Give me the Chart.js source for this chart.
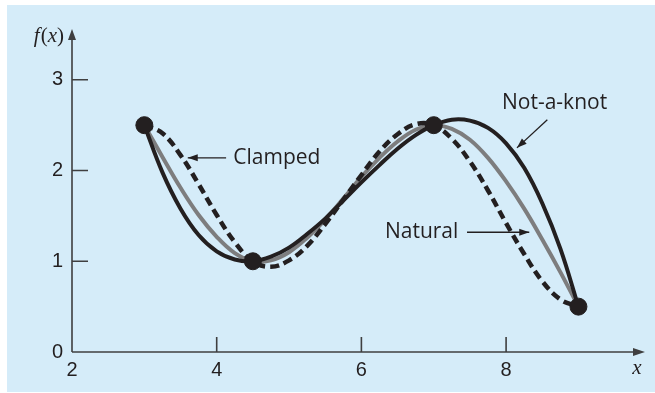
<!DOCTYPE html>
<html>
<head>
<meta charset="utf-8">
<script src="https://cdn.jsdelivr.net/npm/chart.js@4.4.1/dist/chart.umd.min.js"></script>
<style>
  html, body { margin: 0; padding: 0; background: #ffffff; }
  #wrap { width: 655px; height: 393px; }
</style>
</head>
<body>
<div id="wrap"><canvas id="splineChart" width="655" height="393"></canvas></div>
<script>
// sample abscissas
const xs = [3, 3.25, 3.5, 3.75, 4, 4.25, 4.5, 4.75, 5, 5.25, 5.5, 5.75, 6,
  6.25, 6.5, 6.75, 7, 7.25, 7.5, 7.75, 8, 8.25, 8.5, 8.75, 9];

const notAKnot = [2.5, 1.98, 1.58, 1.29, 1.11, 1.02, 1.0, 1.05, 1.15, 1.3, 1.47, 1.67, 1.87,
  2.06, 2.24, 2.39, 2.5, 2.56, 2.55, 2.47, 2.3, 2.03, 1.64, 1.14, 0.5];
const natural = [2.5, 2.15, 1.81, 1.51, 1.27, 1.09, 1.0, 1.01, 1.1, 1.26, 1.46, 1.69, 1.93,
  2.14, 2.32, 2.45, 2.5, 2.46, 2.34, 2.14, 1.88, 1.58, 1.24, 0.88, 0.5];
const clamped = [2.5, 2.41, 2.17, 1.85, 1.51, 1.21, 1.0, 0.94, 1.01, 1.17, 1.41, 1.68, 1.95,
  2.21, 2.4, 2.51, 2.5, 2.35, 2.1, 1.78, 1.42, 1.08, 0.78, 0.58, 0.5];

// data points the splines go through
const knotX = [3, 4.5, 7, 9];
const knotY = [2.5, 1, 2.5, 0.5];

const xTicks = [2, 4, 6, 8];
const yTicks = [0, 1, 2, 3];

const INK = "#231f20";
const AXIS = "#3f3f40";
const GREY = "#7d7d7e";

const notes = [
  { text: "Clamped", x: 4.23, y: 2.14, align: "left", from: [4.13, 2.14], to: [3.6, 2.14] },
  { text: "Natural", x: 7.34, y: 1.32, align: "right", from: [7.46, 1.32], to: [8.32, 1.32] },
  { text: "Not-a-knot", x: 8.67, y: 2.74, align: "center", from: [8.57, 2.56], to: [8.15, 2.25] },
];

const toPoints = (ys) => xs.map((x, i) => ({ x, y: ys[i] }));

function arrowHead(ctx, x1, y1, x2, y2, len, half) {
  const a = Math.atan2(y2 - y1, x2 - x1);
  const c = Math.cos(a), s = Math.sin(a);
  ctx.beginPath();
  ctx.moveTo(x2, y2);
  ctx.lineTo(x2 - len * c + half * s, y2 - len * s - half * c);
  ctx.lineTo(x2 - len * c - half * s, y2 - len * s + half * c);
  ctx.closePath();
  ctx.fill();
}

const backdrop = {
  id: "backdrop",
  beforeDraw(chart) {
    const ctx = chart.ctx;
    ctx.save();
    ctx.fillStyle = "#ffffff";
    ctx.fillRect(0, 0, chart.width, chart.height);
    ctx.fillStyle = "#d5ecf9";
    ctx.fillRect(7, 5, chart.width - 7, chart.height - 6);
    ctx.restore();
  },
};

const axes = {
  id: "axes",
  beforeDatasetsDraw(chart) {
    const { ctx, chartArea: a, scales } = chart;
    const x0 = a.left, y0 = a.bottom;
    ctx.save();
    ctx.strokeStyle = AXIS;
    ctx.fillStyle = AXIS;
    ctx.lineWidth = 1.6;
    ctx.beginPath();
    ctx.moveTo(x0, y0);
    ctx.lineTo(x0, a.top + 6);
    ctx.moveTo(x0, y0);
    ctx.lineTo(a.right - 6, y0);
    // ticks point inwards
    yTicks.slice(1).forEach((v) => {
      const py = scales.y.getPixelForValue(v);
      ctx.moveTo(x0, py);
      ctx.lineTo(x0 + 16, py);
    });
    xTicks.slice(1).forEach((v) => {
      const px = scales.x.getPixelForValue(v);
      ctx.moveTo(px, y0);
      ctx.lineTo(px, y0 - 15);
    });
    ctx.stroke();
    arrowHead(ctx, x0, y0, x0, a.top, 11, 4);
    arrowHead(ctx, x0, y0, a.right, y0, 12, 4);

    // axis titles: f(x) and x
    ctx.fillStyle = INK;
    ctx.textBaseline = "middle";
    const ital = "italic 21px 'Liberation Serif', 'DejaVu Serif', serif";
    const roman = "21px 'Liberation Serif', 'DejaVu Serif', serif";
    const parts = [["f", ital], ["(", roman], ["x", ital], [")", roman]];
    let w = 0;
    parts.forEach(([t, f]) => { ctx.font = f; w += ctx.measureText(t).width; });
    let px = x0 - 9 - w;
    ctx.textAlign = "left";
    parts.forEach(([t, f]) => {
      ctx.font = f;
      ctx.fillText(t, px, a.top + 7);
      px += ctx.measureText(t).width + (t === "f" ? 1 : 0);
    });
    ctx.font = ital;
    ctx.textAlign = "center";
    ctx.fillText("x", a.right - 8, y0 + 16);
    ctx.restore();
  },
};

const labels = {
  id: "labels",
  afterDatasetsDraw(chart) {
    const { ctx, scales } = chart;
    ctx.save();
    ctx.fillStyle = INK;
    ctx.strokeStyle = INK;
    ctx.lineWidth = 1.3;
    ctx.font = "21px 'Open Sans', 'Liberation Sans', sans-serif";
    ctx.textBaseline = "middle";
    notes.forEach((n) => {
      ctx.textAlign = n.align;
      ctx.fillText(n.text, scales.x.getPixelForValue(n.x), scales.y.getPixelForValue(n.y));
      const fx = scales.x.getPixelForValue(n.from[0]);
      const fy = scales.y.getPixelForValue(n.from[1]);
      const tx = scales.x.getPixelForValue(n.to[0]);
      const ty = scales.y.getPixelForValue(n.to[1]);
      ctx.beginPath();
      ctx.moveTo(fx, fy);
      ctx.lineTo(tx, ty);
      ctx.stroke();
      arrowHead(ctx, fx, fy, tx, ty, 10, 3.5);
    });
    ctx.restore();
  },
};

const tickFont = { family: "'Liberation Sans', Arial, sans-serif", size: 20 };

const curve = { showLine: true, pointRadius: 0, tension: 0.4, borderCapStyle: "butt" };

const config = {
  type: "scatter",
  data: {
    datasets: [
      {
        label: "Data",
        data: knotX.map((x, i) => ({ x, y: knotY[i] })),
        pointRadius: 8.5,
        backgroundColor: INK,
        borderColor: INK,
        showLine: false,
        order: 0,
      },
      {
        ...curve,
        label: "Clamped",
        data: toPoints(clamped),
        borderColor: INK,
        borderWidth: 4.5,
        borderDash: [9, 5],
        order: 1,
      },
      {
        ...curve,
        label: "Not-a-knot",
        data: toPoints(notAKnot),
        borderColor: INK,
        borderWidth: 4,
        order: 2,
      },
      {
        ...curve,
        label: "Natural",
        data: toPoints(natural),
        borderColor: GREY,
        borderWidth: 4,
        order: 3,
      },
    ],
  },
  options: {
    responsive: false,
    animation: false,
    layout: { padding: { left: 0, top: 29, right: 10, bottom: 0 } },
    plugins: {
      legend: { display: false },
      tooltip: { enabled: false },
    },
    scales: {
      x: {
        type: "linear",
        min: 2,
        max: 9.92,
        afterBuildTicks: (s) => { s.ticks = xTicks.map((v) => ({ value: v })); },
        afterFit: (s) => { s.height = 41; },
        grid: { display: false, drawTicks: false },
        border: { display: false },
        ticks: { color: INK, font: tickFont, padding: 6, maxRotation: 0, autoSkip: false },
      },
      y: {
        type: "linear",
        min: 0,
        max: 3.56,
        afterBuildTicks: (s) => { s.ticks = yTicks.map((v) => ({ value: v })); },
        afterFit: (s) => { s.width = 72; },
        grid: { display: false, drawTicks: false },
        border: { display: false },
        ticks: { color: INK, font: tickFont, padding: 9, autoSkip: false },
      },
    },
  },
  plugins: [backdrop, axes, labels],
};

new Chart(document.getElementById("splineChart").getContext("2d"), config);
</script>
</body>
</html>
